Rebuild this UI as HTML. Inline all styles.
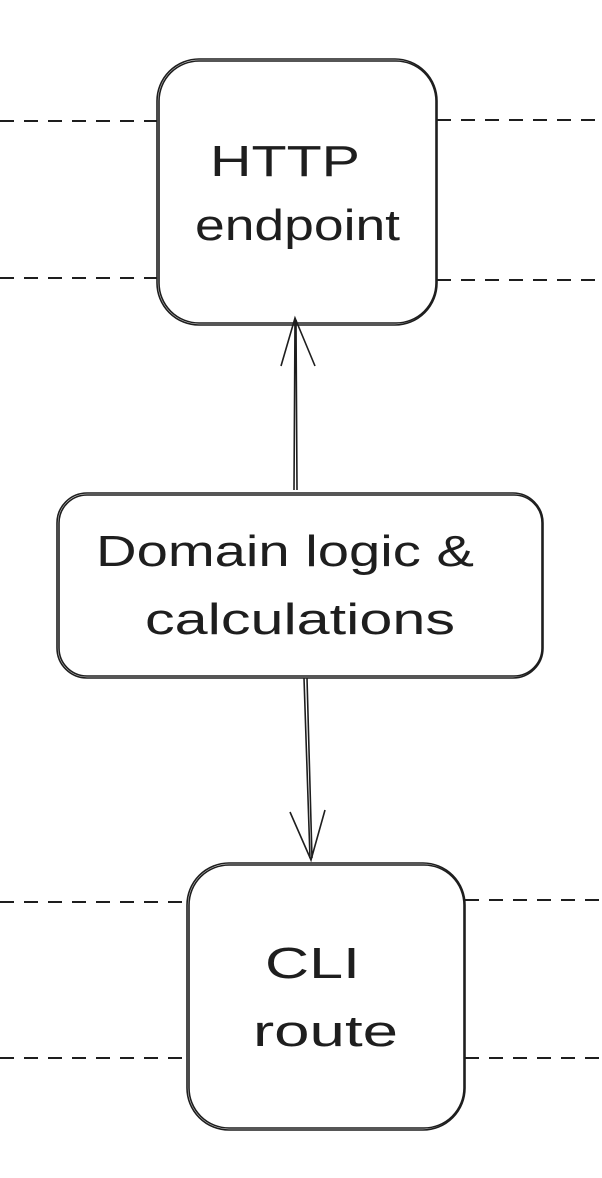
<!DOCTYPE html>
<html><head><meta charset="utf-8"><style>
html,body{margin:0;padding:0;background:#fff;}
svg{display:block;}
text{font-family:"Liberation Sans",sans-serif;fill:#1e1e1e;}
</style></head><body>
<svg width="602" height="1178" viewBox="0 0 602 1178" xmlns="http://www.w3.org/2000/svg">
<g stroke="#1e1e1e" stroke-width="2" stroke-dasharray="14 10" fill="none">
<line x1="0" y1="121" x2="157" y2="121"/>
<line x1="437" y1="120" x2="602" y2="120"/>
<line x1="0" y1="278" x2="157" y2="278"/>
<line x1="437" y1="280" x2="602" y2="280"/>
<line x1="0" y1="902" x2="187" y2="902"/>
<line x1="465" y1="900" x2="602" y2="900"/>
<line x1="0" y1="1058" x2="187" y2="1058"/>
<line x1="465" y1="1058" x2="602" y2="1058"/>
</g>
<g stroke="#1e1e1e" stroke-width="1.6" fill="none">
<rect x="157" y="59" width="280" height="266" rx="42"/>
<rect x="159" y="61" width="277" height="262" rx="40"/>
<rect x="57" y="493" width="486" height="185" rx="30"/>
<rect x="59" y="495" width="483" height="181" rx="28"/>
<rect x="187" y="863" width="278" height="267" rx="42"/>
<rect x="189" y="865" width="275" height="263" rx="40"/>
<path d="M294 490 L295 320 M297 490 L296 320"/>
<path d="M281 366 L295 318 L315 366"/>
<path d="M304 678 L310 858 M307 678 L312 858"/>
<path d="M290 812 L311 860 L325 810"/>
</g>
<g font-size="44" lengthAdjust="spacingAndGlyphs">
<text x="210" y="176" textLength="150" lengthAdjust="spacingAndGlyphs">HTTP</text>
<text x="195" y="240" textLength="205" lengthAdjust="spacingAndGlyphs">endpoint</text>
<text x="96" y="566" textLength="378" lengthAdjust="spacingAndGlyphs">Domain logic &amp;</text>
<text x="145" y="634" textLength="310" lengthAdjust="spacingAndGlyphs">calculations</text>
<text x="265" y="978" textLength="95" lengthAdjust="spacingAndGlyphs">CLI</text>
<text x="253" y="1046" textLength="145" lengthAdjust="spacingAndGlyphs">route</text>
</g>
</svg>
</body></html>
